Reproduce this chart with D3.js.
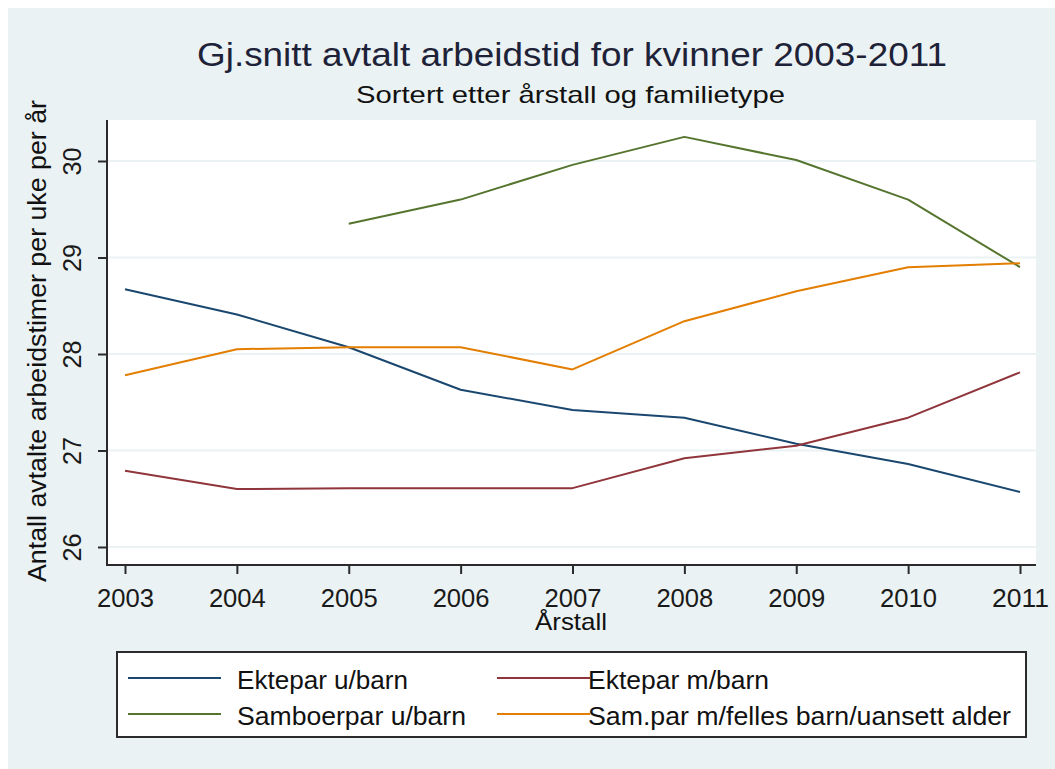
<!DOCTYPE html>
<html>
<head>
<meta charset="utf-8">
<script src="https://cdn.jsdelivr.net/npm/d3@7"></script>
<style>
  html, body { margin: 0; padding: 0; background: #ffffff; }
  svg { display: block; font-family: "Liberation Sans", Arial, sans-serif; }
</style>
</head>
<body>
<svg id="chart" width="1055" height="769"></svg>
<script>
// ---- Data ----
const years = [2003, 2004, 2005, 2006, 2007, 2008, 2009, 2010, 2011];
const ektUtenBarn   = [28.67, 28.41, 28.07, 27.63, 27.42, 27.34, 27.07, 26.86, 26.57];
const ektMedBarn    = [26.79, 26.60, 26.61, 26.61, 26.61, 26.92, 27.05, 27.34, 27.81];
const samUtenBarn   = [null, null, 29.35, 29.60, 29.96, 30.25, 30.01, 29.60, 28.90];
const samMedBarn    = [27.78, 28.05, 28.07, 28.07, 27.84, 28.34, 28.65, 28.90, 28.94];
const yTicks = [26, 27, 28, 29, 30];
const seriesNames = ["Ektepar u/barn", "Ektepar m/barn", "Samboerpar u/barn", "Sam.par m/felles barn/uansett alder"];
const seriesColors = ["#1a476f", "#90353b", "#55752f", "#e37e00"];
const titleText = "Gj.snitt avtalt arbeidstid for kvinner 2003-2011";
const subtitleText = "Sortert etter årstall og familietype";
const yTitle = "Antall avtalte arbeidstimer per uke per år";
const xTitle = "Årstall";

const series = [ektUtenBarn, ektMedBarn, samUtenBarn, samMedBarn].map((vals, i) => ({
  name: seriesNames[i], color: seriesColors[i],
  points: years.map((y, j) => ({ year: y, value: vals[j] }))
}));

// ---- Layout ----
const svg = d3.select("#chart");
const bg = "#eaf2f3";
const plot = { left: 107, right: 1036, top: 120, bottom: 565 };

svg.append("rect").attr("x", 8).attr("y", 8).attr("width", 1047).attr("height", 761).attr("fill", bg);
svg.append("rect").attr("x", plot.left).attr("y", plot.top)
  .attr("width", plot.right - plot.left).attr("height", plot.bottom - plot.top).attr("fill", "#ffffff");

const x = d3.scaleLinear().domain([2003, 2011]).range([125, 1020]);
const y = d3.scaleLinear().domain([26, 30]).range([547, 161]);

function fitText(sel, width) {
  sel.attr("textLength", width).attr("lengthAdjust", "spacingAndGlyphs");
  return sel;
}

// Grid lines
svg.append("g").selectAll("line").data(yTicks).join("line")
  .attr("x1", plot.left).attr("x2", plot.right)
  .attr("y1", d => y(d)).attr("y2", d => y(d))
  .attr("stroke", bg).attr("stroke-width", 2);

// Y axis
const yAxis = svg.append("g").attr("transform", `translate(${plot.left},0)`)
  .call(d3.axisLeft(y).tickValues(yTicks).tickSize(9).tickSizeOuter(0).tickFormat(d3.format("d")));
yAxis.select(".domain").remove();
yAxis.append("line").attr("x1", 0).attr("x2", 0).attr("y1", plot.top).attr("y2", plot.bottom + 1)
  .attr("stroke", "#2b2b2b").attr("stroke-width", 2);
yAxis.selectAll(".tick line").attr("stroke", "#2b2b2b").attr("stroke-width", 2);
yAxis.selectAll(".tick text")
  .attr("x", null).attr("dy", null)
  .attr("transform", "translate(-26,0) rotate(-90)")
  .attr("text-anchor", "middle")
  .attr("font-size", 26).attr("fill", "#1a1a1a")
  .attr("font-family", "Liberation Sans, Arial, sans-serif")
  .attr("textLength", 28).attr("lengthAdjust", "spacingAndGlyphs");

// X axis
const xAxis = svg.append("g").attr("transform", `translate(0,${plot.bottom})`)
  .call(d3.axisBottom(x).tickValues(years).tickSize(9).tickSizeOuter(0).tickFormat(d3.format("d")));
xAxis.select(".domain").remove();
xAxis.append("line").attr("x1", plot.left - 1).attr("x2", plot.right).attr("y1", 0).attr("y2", 0)
  .attr("stroke", "#2b2b2b").attr("stroke-width", 2);
xAxis.selectAll(".tick line").attr("stroke", "#2b2b2b").attr("stroke-width", 2);
xAxis.selectAll(".tick text")
  .attr("y", 42).attr("dy", null)
  .attr("font-size", 26).attr("fill", "#1a1a1a")
  .attr("font-family", "Liberation Sans, Arial, sans-serif")
  .attr("textLength", 57).attr("lengthAdjust", "spacingAndGlyphs");

// Lines
const line = d3.line()
  .defined(d => d.value !== null)
  .x(d => x(d.year)).y(d => y(d.value));
svg.append("g").selectAll("path").data(series).join("path")
  .attr("d", d => line(d.points))
  .attr("fill", "none")
  .attr("stroke", d => d.color)
  .attr("stroke-width", 2)
  .attr("stroke-linejoin", "round");

// Titles
fitText(svg.append("text").attr("x", 197).attr("y", 66).attr("font-size", 34)
  .attr("fill", "#1e2238").text(titleText), 750);
fitText(svg.append("text").attr("x", 356).attr("y", 103).attr("font-size", 24)
  .attr("fill", "#111").text(subtitleText), 429);
fitText(svg.append("text").attr("transform", "translate(46,341) rotate(-90)")
  .attr("text-anchor", "middle").attr("font-size", 26)
  .attr("fill", "#111").text(yTitle), 482);
fitText(svg.append("text").attr("x", 571).attr("y", 630).attr("text-anchor", "middle")
  .attr("font-size", 24).attr("fill", "#111").text(xTitle), 72);

// Legend
const legend = svg.append("g");
legend.append("rect").attr("x", 117).attr("y", 652).attr("width", 909).attr("height", 85)
  .attr("fill", "#ffffff").attr("stroke", "#2b2b2b").attr("stroke-width", 2);
const legPos = [
  { lx: 128, ly: 678, tx: 237, ty: 689, w: 171 },
  { lx: 497, ly: 678, tx: 588, ty: 689, w: 181 },
  { lx: 128, ly: 714, tx: 237, ty: 725, w: 229 },
  { lx: 497, ly: 714, tx: 588, ty: 725, w: 423 }
];
const items = legend.selectAll("g.item").data(series).join("g").attr("class", "item");
items.append("line")
  .attr("x1", (d, i) => legPos[i].lx).attr("x2", (d, i) => legPos[i].lx + 93)
  .attr("y1", (d, i) => legPos[i].ly).attr("y2", (d, i) => legPos[i].ly)
  .attr("stroke", d => d.color).attr("stroke-width", 2);
items.append("text")
  .attr("x", (d, i) => legPos[i].tx).attr("y", (d, i) => legPos[i].ty)
  .attr("font-size", 26).attr("fill", "#111")
  .attr("textLength", (d, i) => legPos[i].w).attr("lengthAdjust", "spacingAndGlyphs")
  .text(d => d.name);
</script>
</body>
</html>
